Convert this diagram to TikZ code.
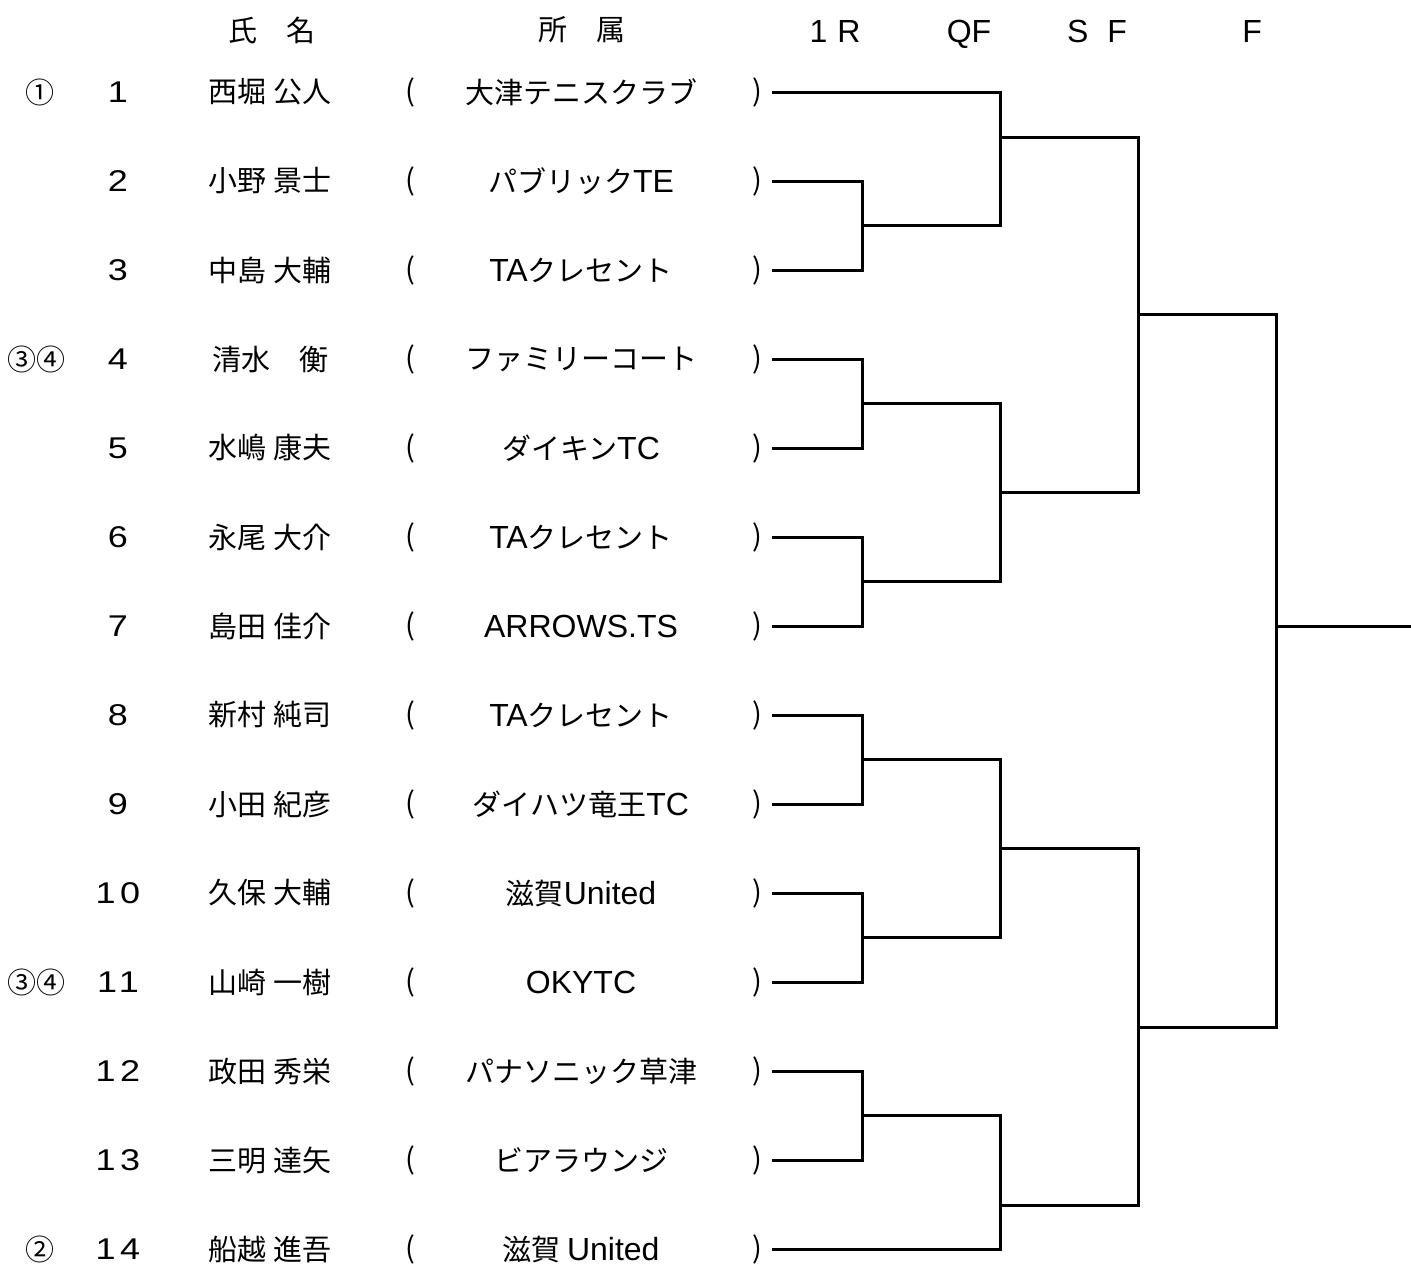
\documentclass[tikz,border=0pt]{standalone}
\usepackage{fontspec}
\setmainfont{Noto Sans CJK JP}
\newfontfamily\latfont{Liberation Sans}
\newfontfamily\numfont{Liberation Sans}[FakeStretch=1.2, LetterSpace=15]
\newcommand\lat[1]{{\latfont\fontsize{16}{18}\selectfont #1}}
\newcommand\num[1]{{\numfont\fontsize{15}{18}\selectfont #1}}
\begin{document}
\begin{tikzpicture}[x=0.5pt, y=-0.5pt, font=\fontsize{14.5}{16}\selectfont,
    every node/.style={inner sep=0pt},
    bracket/.style={line width=1.5pt},
    round/.style={anchor=base}]
    \useasboundingbox (0,0) rectangle (1411,1265);
    \node (hname) at (272,30) {氏　名};
    \node (hclub) at (582,30) {所　属};
    \node[round] (hr1) at (835,42) {\lat{1\hspace{5pt}R}};
    \node[round] (hqf) at (969,42) {\lat{QF}};
    \node[round] (hsf) at (1097,42) {\lat{S\hspace{9.5pt}F}};
    \node[round] (hf) at (1252,42) {\lat{F}};
    \node (s1) at (40,92) {①};
    \node (s4) at (36,359) {③④};
    \node (s11) at (36,982) {③④};
    \node (s14) at (40,1249) {②};
    \foreach \i/\nm/\club in {1/西堀 公人/大津テニスクラブ, 2/小野 景士/パブリック\lat{TE},
        3/中島 大輔/\lat{TA}クレセント, 4/清水　衡/ファミリーコート, 5/水嶋 康夫/ダイキン\lat{TC},
        6/永尾 大介/\lat{TA}クレセント, 7/島田 佳介/\lat{ARROWS.TS}, 8/新村 純司/\lat{TA}クレセント,
        9/小田 紀彦/ダイハツ竜王\lat{TC}, 10/久保 大輔/滋賀\lat{United}, 11/山崎 一樹/\lat{OKYTC},
        12/政田 秀栄/パナソニック草津, 13/三明 達矢/ビアラウンジ, 14/船越 進吾/滋賀 \lat{United}} {
        \pgfmathsetmacro\y{92+89*(\i-1)}
        \node (no\i) at (118,\y) {\num{\i}};
        \node (nm\i) at (270,\y) {\nm};
        \node (lp\i) at (410,\y) {(};
        \node (cl\i) at (581,\y) {\club};
        \node (rp\i) at (757,\y) {)};
        \coordinate (e\i) at (772,\y);
    }
    \coordinate (a23) at (862,225);
    \coordinate (a45) at (862,403);
    \coordinate (a67) at (862,581);
    \coordinate (a89) at (862,759);
    \coordinate (a1011) at (862,937);
    \coordinate (a1213) at (862,1115);
    \coordinate (b1) at (1000,137);
    \coordinate (b2) at (1000,492);
    \coordinate (b3) at (1000,848);
    \coordinate (b4) at (1000,1205);
    \coordinate (c1) at (1138,314);
    \coordinate (c2) at (1138,1027);
    \coordinate (d) at (1276,626);
    \coordinate (win) at (1411,626);
    \foreach \p/\q/\m in {e2/e3/a23, e4/e5/a45, e6/e7/a67, e8/e9/a89, e10/e11/a1011,
        e12/e13/a1213, e1/a23/b1, a45/a67/b2, a89/a1011/b3, a1213/e14/b4,
        b1/b2/c1, b3/b4/c2, c1/c2/d} {
        \draw[bracket] (\p) -| (\m) |- (\q);
    }
    \draw[bracket] (d) -- (win);
\end{tikzpicture}
\end{document}
